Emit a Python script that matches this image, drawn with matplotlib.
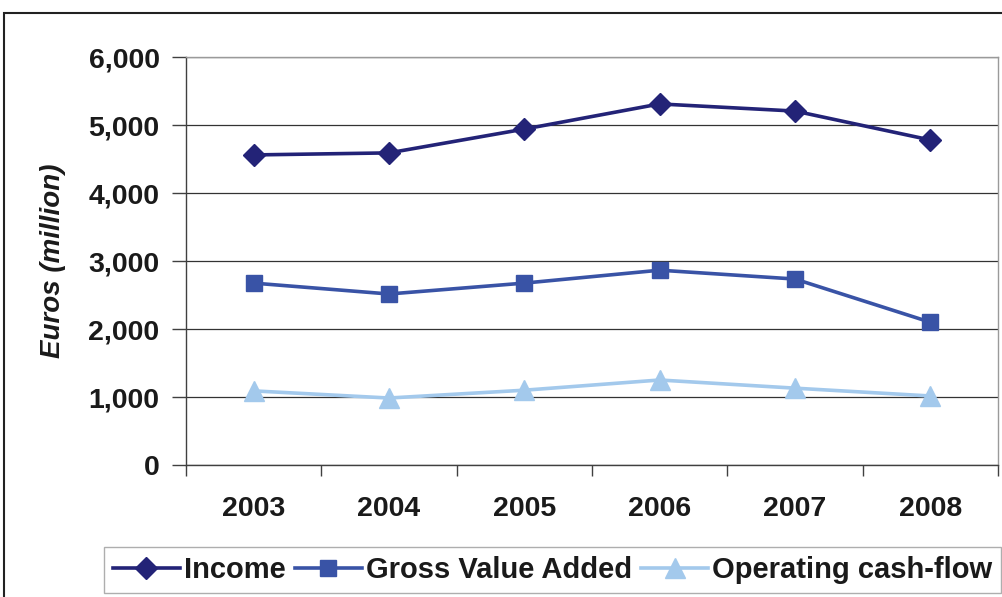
import matplotlib.pyplot as plt
from matplotlib.patches import Rectangle

plt.rcParams['font.family'] = ['Liberation Sans', 'DejaVu Sans']

years = ['2003', '2004', '2005', '2006', '2007', '2008']
income = [4560, 4590, 4940, 5310, 5205, 4780]
gva = [2675, 2515, 2675, 2865, 2735, 2100]
ocf = [1090, 985, 1100, 1250, 1130, 1015]

fig = plt.figure(figsize=(10.03, 5.97), dpi=100)
ax = fig.add_axes([0.1854, 0.2211, 0.8096, 0.6834])

x = range(len(years))
ax.plot(x, income, color='#232377', lw=2.6, marker='D', ms=11, label='Income')
ax.plot(x, gva, color='#3953A6', lw=2.6, marker='s', ms=11, label='Gross Value Added')
ax.plot(x, ocf, color='#A3C9EC', lw=2.6, marker='^', ms=15, label='Operating cash-flow')

ax.set_xlim(-0.5, len(years) - 0.5)
ax.set_ylim(0, 6000)
ax.set_yticks(range(0, 6001, 1000))
ax.set_yticklabels([f'{v:,}' for v in range(0, 6001, 1000)])
ax.set_xticks(list(x))
ax.set_xticklabels(years)
ax.set_xticks([i - 0.5 for i in range(len(years) + 1)], minor=True)
ax.tick_params(axis='x', which='major', length=0, pad=22, labelsize=20.5)
ax.tick_params(axis='x', which='minor', length=8, width=1, color='#404040', direction='out')
ax.tick_params(axis='y', length=10, width=1, color='#404040', pad=9, labelsize=20.5)
for lab in ax.get_xticklabels() + ax.get_yticklabels():
    lab.set_fontweight('bold')
    lab.set_color('#1a1a1a')

ax.yaxis.grid(True, color='#333333', lw=0.9)
ax.set_axisbelow(True)
for side in ['top', 'right']:
    ax.spines[side].set_color('#9a9a9a')
for side in ['left', 'bottom']:
    ax.spines[side].set_color('#404040')
for s in ax.spines.values():
    s.set_linewidth(1)

ax.set_ylabel('Euros (million)', fontsize=20, fontweight='bold', fontstyle='italic',
              color='#1a1a1a', labelpad=16)

leg = ax.legend(loc='upper left', bbox_to_anchor=(104 / 1003, 1 - 547 / 597),
                bbox_transform=fig.transFigure, ncol=3, fontsize=21, frameon=True,
                fancybox=False, edgecolor='#9a9a9a', handlelength=2.3,
                handletextpad=0.15, columnspacing=0.3, borderpad=0.3,
                borderaxespad=0)
leg.get_frame().set_linewidth(1)
for t in leg.get_texts():
    t.set_fontweight('bold')
    t.set_color('#1a1a1a')

fig.patches.append(Rectangle((4 / 1003, -0.1), 1.2, 1.1 - 13 / 597,
                             transform=fig.transFigure, fill=False,
                             edgecolor='#222222', lw=1.5))

fig.savefig('out.png', dpi=100)
